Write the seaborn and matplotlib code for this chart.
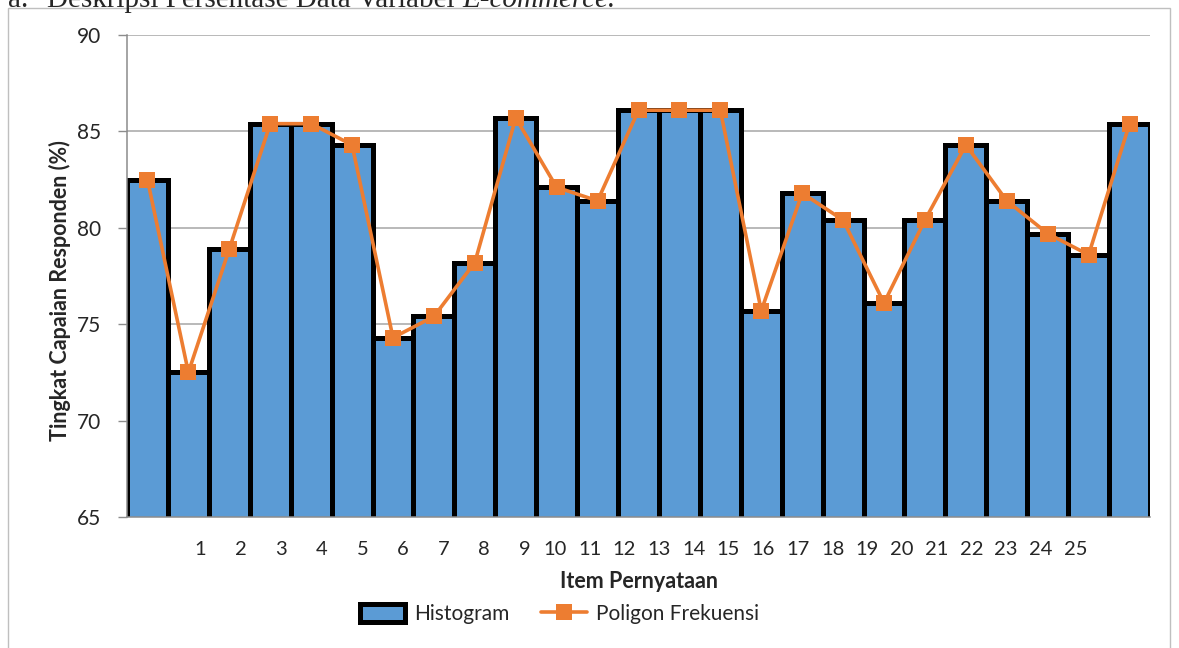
import numpy as np
import pandas as pd
import matplotlib
matplotlib.use("Agg")
import matplotlib.pyplot as plt
import seaborn as sns
from matplotlib.patches import Patch, Rectangle
from matplotlib.lines import Line2D

# data
items = list(range(1, 26))
scores = [82.5, 72.5, 78.9, 85.4, 85.4, 84.3, 74.3, 75.4, 78.2, 85.7,
          82.1, 81.4, 86.1, 86.1, 86.1, 75.7, 81.8, 80.4, 76.1, 80.4,
          84.3, 81.4, 79.7, 78.6, 85.4]
y_ticks = [65, 70, 75, 80, 85, 90]

df = pd.DataFrame({"item": items, "score": scores})

sns.set_style("white")
plt.rcParams["font.family"] = ["Lato", "DejaVu Sans"]

BLUE = "#5B9BD5"
ORANGE = "#ED7D31"
GREY = "#A6A6A6"

W, H = 1179, 648
fig = plt.figure(figsize=(W / 100, H / 100), dpi=100)
ax = fig.add_axes([127 / W, 1 - 517 / H, 1023 / W, 482 / H])

# histogram bars
sns.barplot(data=df, x="item", y="score", color=BLUE, width=1.0,
            edgecolor="black", linewidth=3.6, saturation=1, ax=ax, zorder=2)

# frequency polygon through bar centres
sns.lineplot(x=df.index, y=df["score"], color=ORANGE, lw=2.6, marker="s",
             markersize=11, markeredgewidth=0, sort=False, ax=ax, zorder=3)

ax.set_ylim(65, 90)
ax.set_xlim(-0.5, len(items) - 0.5)
ax.set_yticks(y_ticks)
ax.yaxis.grid(True, color=GREY, lw=1.1)
ax.set_axisbelow(True)

for s in ["top", "right"]:
    ax.spines[s].set_visible(False)
for s in ["left", "bottom"]:
    ax.spines[s].set_color("#8C8C8C")
    ax.spines[s].set_linewidth(1.1)

# x labels sit offset from the bars, as in the original Excel chart
lab_pos = [1.28 + 0.993 * (k - 1) if k <= 9 else 9.96 + 0.848 * (k - 10) for k in items]
ax.set_xticks(lab_pos, labels=[str(k) for k in items])
ax.set_xticks(np.arange(-0.5, len(items)), minor=True)
ax.tick_params(axis="x", which="major", length=0, pad=17, labelsize=14.5)
ax.tick_params(axis="x", which="minor", length=5, width=1, color="#8C8C8C", direction="out")
ax.tick_params(axis="y", length=6.5, width=1, color="#8C8C8C", direction="out",
               pad=12, labelsize=15, left=True)

ax.set_xlabel("Item Pernyataan", fontsize=15.5, fontweight="bold")
ax.set_ylabel("Tingkat Capaian Responden (%)", fontsize=15.5, fontweight="bold")
ax.xaxis.set_label_coords(0.5, (517 - 581) / 482)
ax.xaxis.label.set_va("center")
ax.yaxis.set_label_coords((60 - 127) / 1023, (517 - 291) / 482)
ax.yaxis.label.set_va("center")

handles = [Patch(facecolor=BLUE, edgecolor="black", linewidth=3.6),
           Line2D([], [], color=ORANGE, lw=2.6, marker="s", markersize=11, markeredgewidth=0)]
fig.legend(handles, ["Histogram", "Poligon Frekuensi"], loc="center",
           bbox_to_anchor=(559 / W, 1 - 614 / H), ncol=2, frameon=False,
           fontsize=15, handlelength=2.2, handleheight=1.0,
           handletextpad=0.4, columnspacing=1.55)

# chart frame
fig.patches.append(Rectangle((8 / W, -0.02), (1170 - 8) / W, 1.02 - 8 / H,
                             transform=fig.transFigure, fill=False,
                             edgecolor="#BFBFBF", lw=1))

# section heading of the document, cut off at the top as in the reference
serif = ["Liberation Serif", "DejaVu Serif"]
ty = 1 - 7 / H
fig.text(8 / W, ty, "a.", family=serif, fontsize=21, va="baseline")
t = fig.text(47 / W, ty, "Deskripsi Persentase Data Variabel ", family=serif,
             fontsize=21, va="baseline")
fig.canvas.draw()
bb = t.get_window_extent(fig.canvas.get_renderer())
fig.text(bb.x1 / W, ty, "E-commerce.", family=serif, fontsize=21,
         style="italic", va="baseline")

fig.savefig("out.png", dpi=100)
